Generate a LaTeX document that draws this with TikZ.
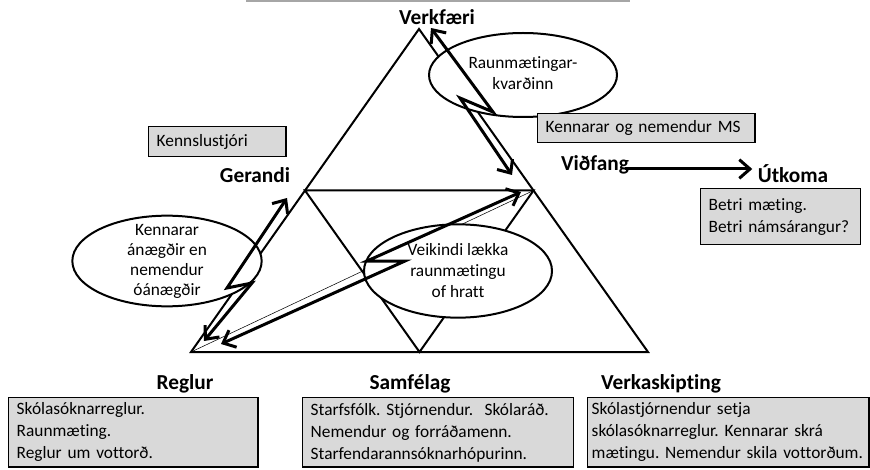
\documentclass[tikz,border=0pt]{standalone}
\usepackage{fontspec}
\setmainfont{Carlito}[Ligatures=NoCommon]
\usepackage{tikz}
\usetikzlibrary{arrows.meta,shapes.geometric}
\definecolor{boxgray}{RGB}{217,217,217}
\definecolor{rulegray}{RGB}{166,166,166}
\frenchspacing
\hyphenpenalty=10000
\exhyphenpenalty=10000

\begin{document}
\begin{tikzpicture}[x=0.75pt, y=-0.75pt,
    lbl/.style={font=\fontsize{16}{19}\selectfont\bfseries, inner sep=0pt},
    txt/.style={font=\fontsize{13}{15.75}\selectfont, align=center, inner sep=0pt},
    oval/.style={ellipse, draw, fill=white, line width=1.5pt, minimum width=141pt, minimum height=62pt, inner sep=0pt},
    gbox/.style={rectangle, draw, fill=boxgray, line width=1.1pt, anchor=north west, font=\fontsize{13}{16.5}\selectfont, align=left, inner xsep=6pt, inner ysep=0pt},
    tri/.style={line width=1.5pt},
    bolt/.style={{Straight Barb[length=8pt,width=14pt]}-{Straight Barb[length=8pt,width=14pt]}, line width=2.25pt},
    arrow/.style={-{Straight Barb[length=8pt,width=14pt]}, line width=2.25pt}
]
    \useasboundingbox (0,0) rectangle (870,470);
    \draw[rulegray, line width=1.5pt] (246,1) -- (630,1);

    % activity triangle
    \coordinate (A) at (419,29);
    \coordinate (L) at (191,352);
    \coordinate (R) at (648,352);
    \coordinate (ML) at (305,190.5);
    \coordinate (MR) at (533.5,190.5);
    \coordinate (MB) at (419.5,352);
    \draw[tri] (A) -- (L) -- (R) -- cycle;
    \draw[tri] (ML) -- (MR) -- (MB) -- cycle;
    \draw[thin] (L) -- (MR);

    % contradictions
    \node[oval, minimum width=141pt, minimum height=63pt] (rmk) at (523,75) {};
    \node[txt] (rmktxt) at (523,73) {Raunmætingar-\\kvarðinn};
    \node[oval, minimum width=142pt, minimum height=68pt] (kenn) at (167,261) {};
    \node[txt, font=\fontsize{13}{15}\selectfont] (kenntxt) at (167,261) {Kennarar\\ánægðir en\\nemendur\\óánægðir};
    \node[oval, minimum width=141pt, minimum height=70pt] (veik) at (458,271) {};
    \node[txt] (veiktxt) at (458,271) {Veikindi lækka\\raunmætingu\\of hratt};

    \coordinate (b1a) at (431,28);
    \coordinate (b1b) at (493,112);
    \coordinate (b1c) at (460,98);
    \coordinate (b1d) at (512,175);
    \draw[bolt] (b1a) -- (b1b) -- (b1c) -- (b1d);
    \coordinate (b2a) at (287,198);
    \coordinate (b2b) at (227,288);
    \coordinate (b2c) at (252,283);
    \coordinate (b2d) at (204,341);
    \draw[bolt] (b2a) -- (b2b) -- (b2c) -- (b2d);
    \coordinate (b3a) at (521,192);
    \coordinate (b3b) at (367,261);
    \coordinate (b3c) at (405,261);
    \coordinate (b3d) at (221,344);
    \draw[bolt] (b3a) -- (b3b) -- (b3c) -- (b3d);

    % labels
    \node[lbl] (verk) at (437,17) {Verkfæri};
    \node[lbl] (ger) at (255,175) {Gerandi};
    \node[lbl] (vid) at (595,165) {Viðfang};
    \node[lbl] (utk) at (793,174) {Útkoma};
    \node[lbl] (regl) at (185,384) {Reglur};
    \node[lbl] (samf) at (410,384) {Samfélag};
    \node[lbl] (verka) at (661,384) {Verkaskipting};
    \draw[arrow] ([xshift=-3pt,yshift=-3pt]vid.east) -- ([xshift=-4pt,yshift=-3pt]vid.east -| utk.west);

    % boxes
    \node[gbox, text width=91pt, minimum height=22.5pt] (kstj) at (148,126) {Kennslustjóri};
    \node[gbox, text width=151pt, minimum height=21.75pt] (kms) at (537,113) {Kennarar og nemendur MS};
    \node[gbox, text width=108pt, minimum height=42pt] (betri) at (700,188) {Betri mæting.\\Betri námsárangur?};
    \node[gbox, text width=175pt, minimum height=52pt] (regbox) at (8,397) {Skólasóknarreglur.\\Raunmæting.\\Reglur um vottorð.};
    \node[gbox, text width=191pt, minimum height=52pt] (samfbox) at (302,397) {Starfsfólk. Stjórnendur.~ Skólaráð.\\Nemendur og forráðamenn.\\Starfendarannsóknarhópurinn.};
    \node[gbox, inner xsep=3pt, text width=205pt, minimum height=52pt] (verkbox) at (587,397) {Skólastjórnendur setja\\skólasóknarreglur. Kennarar skrá\\mætingu. Nemendur skila vottorðum.};
\end{tikzpicture}
\end{document}
